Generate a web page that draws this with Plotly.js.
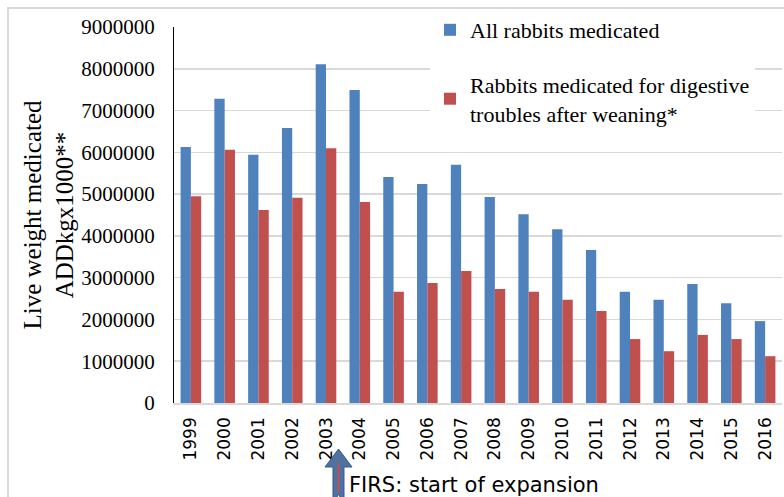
<!DOCTYPE html>
<html>
<head>
<meta charset="utf-8">
<script src="https://cdn.plot.ly/plotly-3.0.1.min.js"></script>
<style>html,body{margin:0;padding:0;background:#fff;}#chart{width:784px;height:497px;}</style>
</head>
<body>
<div id="chart"></div>
<script>
const years = ['1999','2000','2001','2002','2003','2004','2005','2006','2007','2008','2009','2010','2011','2012','2013','2014','2015','2016'];
const allRabbits = [6130000, 7280000, 5940000, 6580000, 8110000, 7490000, 5410000, 5240000, 5700000, 4930000, 4520000, 4160000, 3660000, 2660000, 2470000, 2850000, 2390000, 1960000];
const digestive = [4950000, 6060000, 4620000, 4910000, 6100000, 4810000, 2660000, 2870000, 3160000, 2730000, 2660000, 2470000, 2200000, 1530000, 1240000, 1630000, 1530000, 1120000];
const yTicks = [0, 1000000, 2000000, 3000000, 4000000, 5000000, 6000000, 7000000, 8000000, 9000000];
const seriesNames = ['All rabbits medicated', 'Rabbits medicated for digestive<br>troubles after weaning*'];
const yTitle = 'Live weight medicated<br>ADDkgx1000**';
const noteText = 'FIRS: start of expansion';

// layout geometry (pixels)
const W = 784, H = 497, ML = 174, MR = 2, MT = 27, MB = 94;
const PW = W - ML - MR, PH = H - MT - MB;
const px = x => (x - ML) / PW;
const py = y => (H - MB - y) / PH;

const traces = [
  {type:'bar', x: years, y: allRabbits, name: seriesNames[0], marker:{color:'#4f81bd'}, legendgroup:'a'},
  {type:'bar', x: years, y: digestive, name: seriesNames[1], marker:{color:'#c0504d'}, legendgroup:'b'}
];

function arrowPath(){
  const pts = [[338.5,449],[352,467],[344,467],[344,505],[338.5,494],[333,505],[333,467],[325,467]];
  return 'M ' + pts.map(p => px(p[0]).toFixed(4) + ',' + py(p[1]).toFixed(4)).join(' L ') + ' Z';
}

const layout = {
  width: W, height: H,
  margin: {l: ML, r: MR, t: MT, b: MB, pad: 0},
  paper_bgcolor: '#fff', plot_bgcolor: '#fff',
  barmode: 'group', bargap: 0.39, bargroupgap: 0,
  showlegend: true,
  legend: {
    x: px(430), y: py(9), xanchor: 'left', yanchor: 'top',
    bgcolor: '#fff', borderwidth: 0,
    font: {family: 'Liberation Serif', size: 22, color: '#000'},
    traceorder: 'grouped', tracegroupgap: 23, itemwidth: 30
  },
  xaxis: {
    type: 'category', range: [-0.5, 17.5],
    showline: true, linecolor: '#d9d9d9', linewidth: 1.5,
    showgrid: false, zeroline: false,
    tickangle: -90, ticks: '', ticklabelstandoff: 6,
    tickfont: {family: 'DejaVu Sans', size: 17, color: '#000'}
  },
  yaxis: {
    range: [0, 9000000], tickvals: yTicks, tickformat: 'd',
    showline: true, linecolor: '#000', linewidth: 1,
    showgrid: true, gridcolor: '#d9d9d9', gridwidth: 1.5,
    zeroline: false, ticks: '', ticklabelstandoff: 14,
    tickfont: {family: 'Liberation Serif', size: 21, color: '#000'},
    title: {text: yTitle, font: {family: 'Liberation Serif', size: 25, color: '#000'}, standoff: 0}
  },
  shapes: [
    {type:'rect', xref:'paper', yref:'paper', x0: px(8), x1: px(800), y0: py(8), y1: py(520),
     line:{color:'#d9d9d9', width:2}, fillcolor:'rgba(0,0,0,0)', layer:'below'},
    {type:'path', xref:'paper', yref:'paper', path: arrowPath(), fillcolor:'#4e72a2', line:{color:'#3a5a85', width:1}},
    {type:'line', xref:'paper', yref:'paper', x0: px(338.5), x1: px(338.5), y0: py(462), y1: py(492), line:{color:'#c0504d', width:2}}
  ],
  annotations: [
    {text: noteText, xref:'paper', yref:'paper', x: px(347), y: py(485), xanchor:'left', yanchor:'middle',
     showarrow:false, font:{family:'DejaVu Sans', size:21, color:'#000'}}
  ]
};

Plotly.newPlot('chart', traces, layout, {staticPlot: true, displayModeBar: false});
</script>
</body>
</html>
